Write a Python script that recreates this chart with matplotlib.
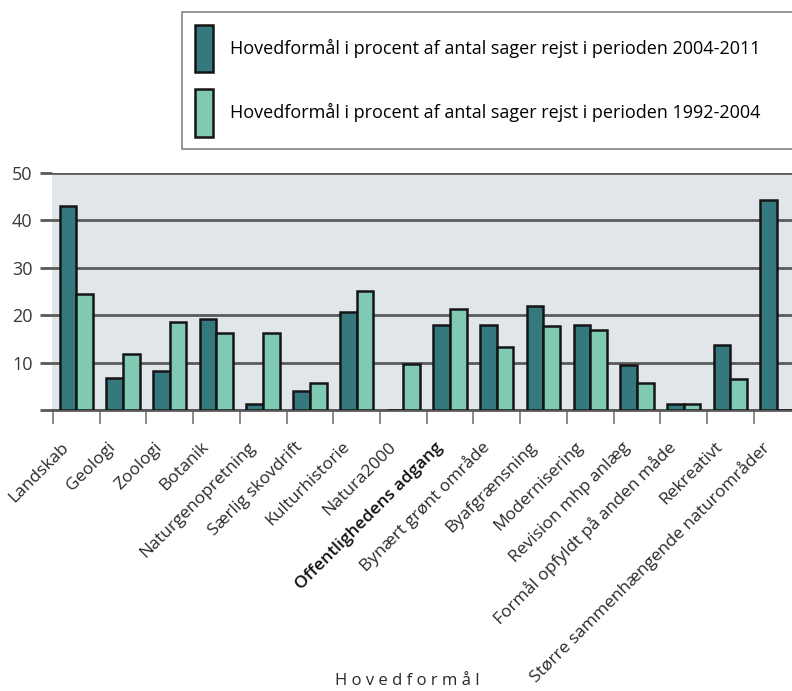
import matplotlib.pyplot as plt
import matplotlib.transforms as mtransforms
import numpy as np
from matplotlib.patches import Patch

plt.rcParams['font.family'] = ['Open Sans', 'DejaVu Sans']

# ── Data ──────────────────────────────────────────────────────────────────────
categories = [
    'Landskab', 'Geologi', 'Zoologi', 'Botanik', 'Naturgenopretning',
    'Særlig skovdrift', 'Kulturhistorie', 'Natura2000',
    'Offentlighedens adgang', 'Bynært grønt område', 'Byafgrænsning',
    'Modernisering', 'Revision mhp anlæg', 'Formål opfyldt på anden måde',
    'Rekreativt', 'Større sammenhængende naturområder',
]
pct_2004_2011 = [43.0, 6.7, 8.2, 19.2, 1.2, 4.0, 20.6, 0.0,
                 17.9, 17.9, 22.0, 17.9, 9.5, 1.2, 13.7, 44.3]
pct_1992_2004 = [24.4, 11.8, 18.5, 16.3, 16.3, 5.8, 25.2, 9.6,
                 21.4, 13.3, 17.7, 16.9, 5.8, 1.2, 6.5, 0.0]
y_ticks = [0, 10, 20, 30, 40, 50]
y_ticklabels = ['', '10', '20', '30', '40', '50']
label_new = 'Hovedformål i procent af antal sager rejst i perioden 2004-2011'
label_old = 'Hovedformål i procent af antal sager rejst i perioden 1992-2004'

DARK = '#35797f'
LIGHT = '#80c9b2'
GRID = '#5a5a5a'
EDGE = '#151515'

# ── Figure ────────────────────────────────────────────────────────────────────
fig = plt.figure(figsize=(7.92, 6.91), dpi=100)
ax = fig.add_axes([52 / 792, 281 / 691, 740 / 792, 237 / 691])
ax.set_facecolor('#e1e6ea')

x = np.arange(len(categories)) + 0.5
w = 0.357
ax.bar(x - w / 2, pct_2004_2011, w, color=DARK, edgecolor=EDGE,
       linewidth=1.8, zorder=3)
ax.bar(x + w / 2, pct_1992_2004, w, color=LIGHT, edgecolor=EDGE,
       linewidth=1.8, zorder=3)

ax.set_xlim(-0.02, 15.82)
ax.set_ylim(0, 50)

# grid lines, pulled a little left of the plot by outward ticks
ax.set_yticks(y_ticks)
ax.set_yticklabels(y_ticklabels)
ax.grid(axis='y', color=GRID, linewidth=2, zorder=1)
ax.tick_params(axis='y', length=9, width=2, color=GRID, labelsize=13,
               pad=5, labelcolor='#3a3a3a')

for s in ['top', 'right', 'left']:
    ax.spines[s].set_visible(False)
ax.spines['bottom'].set_color(GRID)
ax.spines['bottom'].set_linewidth(2)

# tick marks on category boundaries, labels at the centres
ax.set_xticks(np.arange(len(categories)), minor=True)
ax.tick_params(axis='x', which='minor', length=10, width=1.2, color='#777777')
ax.set_xticks(x)
ax.set_xticklabels(categories, rotation=45, ha='right', va='center',
                   rotation_mode='anchor', fontsize=12.5, color='#2a2a2a')
ax.tick_params(axis='x', which='major', length=0, pad=22)
shift = mtransforms.ScaledTranslation(-7 / 72, -3 / 72, fig.dpi_scale_trans)
for t in ax.get_xticklabels():
    t.set_transform(t.get_transform() + shift)
    if t.get_text() == 'Offentlighedens adgang':
        t.set_fontweight('semibold')
        t.set_color('#111111')

fig.text(407 / 792, 1 - 681 / 691, ' '.join('Hovedformål'),
         ha='center', va='center', fontsize=12, color='#2a2a2a')

# legend box, running off the right edge like the original
handles = [Patch(facecolor=DARK, edgecolor=EDGE, linewidth=1.8),
           Patch(facecolor=LIGHT, edgecolor=EDGE, linewidth=1.8)]
leg = fig.legend(handles, [label_new, label_old], loc='upper left',
                 bbox_to_anchor=(182 / 792, 1 - 12 / 691, 620 / 792, 0),
                 mode='expand', borderaxespad=0,
                 fontsize=13, frameon=True, fancybox=False,
                 edgecolor='#666666', handlelength=1.0, handleheight=3.7,
                 labelspacing=0.9, borderpad=0.7, handletextpad=0.95)
leg.get_frame().set_linewidth(1.2)

fig.savefig('out.png', dpi=100)
